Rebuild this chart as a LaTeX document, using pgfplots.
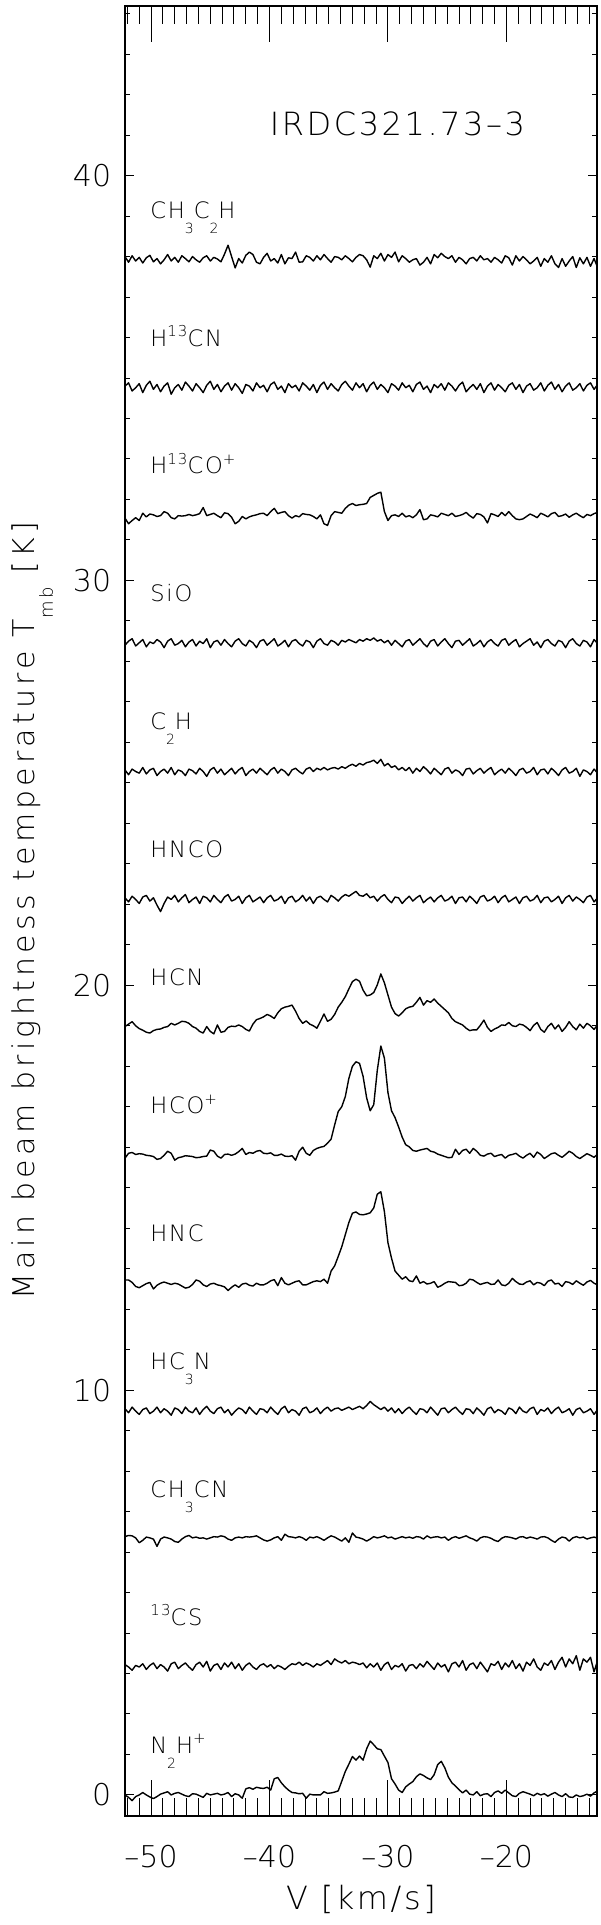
\documentclass[border=0pt]{standalone}
\usepackage{fontspec}
\IfFontExistsTF{DejaVu Sans ExtraLight}
  {\setmainfont{DejaVu Sans ExtraLight}[LetterSpace=8]}
  {\setmainfont{DejaVu Sans}[LetterSpace=8]}
\usepackage{pgfplots}
\usepackage{pgfplotstable}
\pgfplotsset{compat=1.18}

\newcommand\fs[1]{\fontsize{#1}{#1}\selectfont}
\newcommand\dn[1]{\raisebox{-7.5pt}{\fs{7pt}#1}}
\newcommand\up[1]{\raisebox{4.8pt}{\fs{7.5pt}#1}}

% spectra, T_mb in K, one value per 0.3 km/s channel
\pgfplotstableset{
 create on use/v/.style={create col/set list={
-52.2,-51.9,-51.6,-51.3,-51.0,-50.7,-50.4,-50.1,-49.8,-49.5,
-49.2,-48.9,-48.6,-48.3,-48.0,-47.7,-47.4,-47.1,-46.8,-46.5,
-46.2,-45.9,-45.6,-45.3,-45.0,-44.7,-44.4,-44.1,-43.8,-43.5,
-43.2,-42.9,-42.6,-42.3,-42.0,-41.7,-41.4,-41.1,-40.8,-40.5,
-40.2,-39.9,-39.6,-39.3,-39.0,-38.7,-38.4,-38.1,-37.8,-37.5,
-37.2,-36.9,-36.6,-36.3,-36.0,-35.7,-35.4,-35.1,-34.8,-34.5,
-34.2,-33.9,-33.6,-33.3,-33.0,-32.7,-32.4,-32.1,-31.8,-31.5,
-31.2,-30.9,-30.6,-30.3,-30.0,-29.7,-29.4,-29.1,-28.8,-28.5,
-28.2,-27.9,-27.6,-27.3,-27.0,-26.7,-26.4,-26.1,-25.8,-25.5,
-25.2,-24.9,-24.6,-24.3,-24.0,-23.7,-23.4,-23.1,-22.8,-22.5,
-22.2,-21.9,-21.6,-21.3,-21.0,-20.7,-20.4,-20.1,-19.8,-19.5,
-19.2,-18.9,-18.6,-18.3,-18.0,-17.7,-17.4,-17.1,-16.8,-16.5,
-16.2,-15.9,-15.6,-15.3,-15.0,-14.7,-14.4,-14.1,-13.8,-13.5,
-13.2,-12.9,-12.6,-12.3,-12.0}},
 create on use/n2h/.style={create col/set list={
0.0,-0.06,-0.14,-0.04,0.0,0.06,0.0,-0.05,-0.09,-0.04,
0.02,0.05,0.08,0.0,0.04,0.06,0.02,-0.02,-0.04,0.03,
0.02,-0.02,-0.06,0.04,0.0,0.02,0.04,0.0,0.02,0.06,
-0.04,0.03,0.0,-0.08,0.15,0.18,0.14,0.19,0.17,0.16,
0.19,0.12,0.4,0.43,0.3,0.2,0.12,0.06,0.05,0.03,
0.04,-0.08,0.02,0.0,0.0,0.0,0.08,0.04,0.05,0.07,
0.1,0.34,0.58,0.76,0.95,0.86,0.96,0.86,1.14,1.33,
1.24,1.14,1.12,0.96,0.8,0.4,0.27,0.12,0.06,0.2,
0.27,0.33,0.45,0.52,0.48,0.42,0.38,0.5,0.75,0.83,
0.67,0.44,0.3,0.22,0.13,0.05,0.12,0.02,0.0,0.08,
-0.02,0.02,0.03,-0.04,0.06,0.1,0.04,0.12,0.05,-0.02,
-0.04,0.04,0.08,0.05,0.02,-0.02,0.04,0.0,0.03,-0.03,
0.02,0.06,0.0,-0.04,0.03,-0.05,-0.06,0.0,-0.04,-0.02,
0.02,-0.03,0.05,0.1,0.04}},
 create on use/cs/.style={create col/set list={
0.06,0.0,-0.08,0.04,0.0,0.08,-0.06,0.04,0.1,-0.04,
0.06,0.0,-0.1,0.08,0.12,-0.04,0.04,0.1,0.0,-0.08,
0.06,0.12,0.0,0.14,-0.1,0.04,0.08,-0.06,0.1,0.0,
0.12,-0.04,0.08,-0.08,0.04,0.1,0.0,-0.06,0.04,0.08,
0.0,0.06,-0.04,0.04,0.0,-0.06,0.02,0.08,0.06,0.12,
0.04,0.1,0.06,0.0,0.08,0.04,0.1,0.16,0.06,0.2,
0.14,0.1,0.16,0.08,0.12,0.1,0.06,0.1,-0.02,0.08,
0.0,0.1,-0.08,0.06,0.12,-0.06,0.04,0.0,0.08,-0.1,
0.04,0.06,-0.04,0.08,0.0,0.14,0.04,-0.06,0.1,0.0,
0.06,-0.12,0.08,0.12,0.0,0.16,-0.08,0.06,0.1,-0.04,
0.12,0.0,-0.12,0.08,0.04,0.14,-0.06,0.1,0.0,0.16,
-0.04,0.08,-0.1,0.12,0.04,0.2,0.0,-0.08,0.1,0.04,
0.16,-0.06,0.12,0.24,0.0,0.2,0.08,0.28,-0.08,0.2,
0.12,0.24,-0.12,0.16,0.04}},
 create on use/ch3cn/.style={create col/set list={
0.06,0.09,0.08,0.03,-0.09,-0.03,0.05,0.03,0.0,-0.18,
0.0,0.05,0.03,0.0,-0.06,-0.08,0.0,0.06,0.09,0.03,
0.05,0.02,0.03,0.0,0.03,0.06,0.05,0.08,0.06,0.0,
-0.03,0.03,0.05,0.03,0.06,0.05,0.06,0.08,0.03,-0.02,
-0.05,-0.02,0.03,0.06,-0.03,0.12,0.06,0.05,0.03,0.06,
0.03,-0.03,0.05,0.03,0.06,0.02,-0.03,0.03,0.08,0.05,
0.0,-0.05,0.03,-0.08,0.15,0.05,0.03,0.0,-0.05,0.0,
0.06,0.03,0.05,0.08,0.03,0.05,0.0,0.03,0.06,0.03,
0.05,0.02,0.06,0.05,0.0,0.08,0.03,0.05,0.06,0.03,
0.05,-0.03,0.03,0.06,0.02,0.05,0.08,0.03,0.0,-0.05,
0.03,0.06,0.05,0.02,-0.03,-0.06,0.02,0.06,0.05,0.03,
0.0,0.05,0.06,0.02,0.05,0.03,0.0,0.05,0.06,0.03,
-0.03,-0.08,0.0,0.05,0.03,-0.05,0.03,0.06,0.03,0.05,
0.0,0.03,0.05,0.02,0.03}},
 create on use/hc3n/.style={create col/set list={
0.06,-0.04,0.1,0.0,-0.08,0.04,0.08,-0.06,0.0,0.1,
-0.04,0.06,0.0,-0.1,0.08,0.04,-0.06,0.1,0.0,-0.04,
0.08,-0.08,0.04,0.12,0.0,-0.06,0.06,0.1,-0.04,0.04,
-0.1,0.0,0.08,0.04,-0.06,0.1,0.0,-0.08,0.06,0.04,
-0.04,0.1,0.0,-0.08,0.06,0.12,-0.04,0.04,0.0,-0.1,
0.06,0.1,-0.04,0.0,0.08,-0.06,0.04,0.1,0.0,0.06,
0.08,0.02,0.06,0.1,0.04,0.08,0.12,0.06,0.14,0.24,
0.16,0.1,0.04,0.1,0.0,0.08,-0.04,0.06,-0.06,0.04,
0.1,0.0,-0.08,0.06,0.04,-0.04,0.1,0.0,-0.1,0.06,
0.08,-0.04,0.04,0.1,0.0,-0.08,0.06,0.04,-0.06,0.08,
0.0,-0.1,0.06,0.1,-0.04,0.04,0.0,-0.08,0.08,0.04,
-0.06,0.1,0.0,-0.04,0.06,0.1,-0.08,0.04,0.0,0.08,
-0.06,0.04,0.1,-0.04,0.0,0.06,-0.1,0.04,0.08,-0.04,
0.0,0.06,-0.08,0.04,0.0}},
 create on use/hnc/.style={create col/set list={
0.08,0.08,0.02,-0.08,-0.11,-0.06,-0.01,0.02,-0.14,-0.05,
0.0,0.03,0.0,-0.03,0.0,-0.02,-0.07,-0.12,-0.1,-0.03,
0.08,0.05,-0.04,-0.08,-0.02,0.0,-0.04,-0.06,-0.09,-0.18,
-0.1,-0.04,-0.1,-0.02,0.0,-0.05,-0.07,0.0,-0.04,-0.04,
0.0,0.06,0.09,-0.06,0.14,0.0,-0.04,0.0,0.04,0.06,
-0.04,-0.04,0.0,0.04,0.06,0.04,0.1,0.0,0.3,0.43,
0.66,0.9,1.2,1.5,1.73,1.76,1.7,1.69,1.71,1.74,
1.86,2.2,2.26,1.77,1.0,0.62,0.3,0.2,0.1,0.16,
0.06,0.04,0.18,0.0,0.04,-0.02,0.0,0.04,-0.1,-0.06,
0.0,0.04,0.03,0.02,-0.06,-0.05,0.0,0.1,0.08,0.02,
-0.03,0.0,0.02,-0.03,-0.02,0.08,-0.04,-0.06,0.0,0.12,
0.04,-0.02,-0.03,0.03,0.06,-0.04,0.02,0.0,-0.06,0.05,
0.08,-0.02,0.0,-0.08,0.04,0.02,-0.03,0.06,0.0,-0.05,
0.03,0.07,0.0,-0.04,0.02}},
 create on use/hcop/.style={create col/set list={
-0.07,0.05,0.07,0.02,0.04,0.03,0.0,-0.01,-0.03,-0.1,
-0.08,0.0,0.1,0.05,-0.12,-0.06,-0.04,-0.01,-0.02,-0.03,
-0.06,-0.05,-0.03,-0.02,0.13,0.1,-0.02,-0.07,0.02,0.03,
0.0,0.03,0.09,0.17,0.02,0.07,0.05,0.1,0.12,0.05,
0.04,0.06,0.0,0.0,0.03,-0.02,-0.03,-0.01,-0.12,0.1,
0.2,0.05,0.0,0.12,0.17,0.2,0.22,0.3,0.4,0.75,
1.08,1.2,1.45,1.9,2.2,2.31,2.27,1.95,1.42,1.1,
1.25,2.1,2.7,2.4,1.55,1.1,0.93,0.7,0.45,0.26,
0.21,0.12,0.1,0.13,0.15,0.17,0.1,0.08,0.03,0.0,
-0.03,-0.06,-0.05,0.15,0.02,0.12,0.15,0.05,0.17,0.1,
0.0,-0.02,0.03,0.05,-0.03,0.0,0.02,-0.07,0.0,0.02,
0.05,-0.02,-0.07,0.0,0.05,-0.05,0.08,0.02,-0.08,-0.02,
0.04,0.06,0.0,-0.05,0.02,0.1,0.05,-0.03,-0.08,-0.02,
0.04,0.0,-0.05,0.03,0.02}},
 create on use/hcn/.style={create col/set list={
0.02,0.08,0.14,0.04,-0.03,-0.07,-0.12,-0.14,-0.08,-0.05,
-0.04,0.0,0.02,0.1,0.06,0.1,0.15,0.14,0.1,0.02,
-0.02,-0.1,-0.14,0.02,-0.1,-0.16,0.06,-0.12,-0.1,0.0,
0.03,0.02,0.06,0.02,-0.05,-0.09,0.08,0.19,0.22,0.26,
0.32,0.28,0.22,0.36,0.46,0.5,0.52,0.55,0.4,0.22,
0.1,0.16,0.08,0.04,-0.02,0.15,0.33,0.15,0.2,0.32,
0.5,0.62,0.76,0.95,1.13,1.19,1.14,0.92,0.78,0.8,
0.86,1.05,1.32,1.1,0.8,0.5,0.34,0.28,0.36,0.46,
0.5,0.52,0.62,0.74,0.55,0.66,0.62,0.7,0.6,0.52,
0.44,0.36,0.22,0.14,0.1,0.06,-0.02,-0.08,-0.06,-0.06,
0.05,0.18,0.0,-0.1,-0.04,0.0,0.06,0.05,0.12,0.04,
0.02,0.08,0.06,0.0,-0.08,0.05,0.12,-0.05,-0.12,0.02,
0.1,-0.04,0.06,-0.1,0.0,0.14,0.02,-0.06,0.08,-0.02,
0.1,0.04,-0.05,0.06,0.02}},
 create on use/hnco/.style={create col/set list={
0.04,-0.06,0.08,0.0,-0.1,0.06,0.1,-0.04,0.04,-0.14,
-0.3,-0.1,0.06,0.0,0.1,-0.06,0.04,0.12,-0.08,0.0,
0.06,-0.1,0.08,0.04,-0.06,0.1,0.0,-0.08,0.06,0.12,
-0.04,0.0,0.08,-0.1,0.04,0.1,-0.06,0.0,0.06,-0.08,
0.04,0.1,-0.04,0.0,0.08,-0.1,0.04,0.08,-0.06,0.0,
0.1,-0.04,0.06,-0.1,0.04,0.08,0.0,-0.06,0.1,0.04,
-0.04,0.06,0.12,0.08,0.14,0.2,0.1,0.08,0.14,0.04,
0.08,-0.04,0.06,0.12,0.0,-0.08,0.06,0.04,-0.1,0.0,
0.08,-0.04,0.04,0.1,-0.08,0.0,0.06,-0.06,0.04,0.1,
-0.04,0.0,0.08,-0.1,0.04,0.06,-0.06,0.08,0.0,-0.1,
0.06,0.1,-0.04,0.0,0.08,-0.08,0.04,0.1,-0.06,0.0,
0.06,-0.1,0.04,0.08,-0.04,0.0,0.1,-0.08,0.04,0.06,
-0.06,0.0,0.08,-0.1,0.04,0.1,-0.04,0.06,0.0,-0.08,
0.06,0.1,-0.06,0.04,0.0}},
 create on use/c2h/.style={create col/set list={
0.04,-0.08,0.06,0.0,-0.04,0.1,-0.06,0.04,0.08,-0.1,
0.0,0.06,-0.04,0.1,-0.08,0.04,0.0,-0.1,0.06,0.02,
-0.06,0.08,0.0,-0.12,0.04,0.1,-0.04,0.06,-0.08,0.0,
0.08,-0.06,0.04,0.1,-0.1,0.0,0.06,-0.04,0.08,0.0,
-0.08,0.04,0.1,-0.04,0.06,0.0,-0.1,0.04,0.08,0.0,
-0.06,0.06,0.1,0.0,0.08,0.04,0.1,0.04,0.08,0.1,
0.06,0.12,0.08,0.14,0.18,0.13,0.2,0.16,0.22,0.24,
0.28,0.2,0.3,0.14,0.2,0.1,0.14,0.04,0.1,0.02,
0.1,-0.04,0.08,0.0,0.12,0.04,-0.06,0.08,0.0,-0.08,
0.06,0.1,-0.04,0.04,0.0,-0.1,0.06,0.08,-0.06,0.02,
0.08,-0.04,0.04,0.1,-0.08,0.0,0.06,-0.04,0.08,0.0,
-0.1,0.04,0.08,-0.04,0.0,0.1,-0.08,0.04,0.06,-0.06,
0.08,0.0,-0.1,0.04,0.1,-0.04,0.0,0.08,-0.12,0.04,
0.0,-0.08,0.06,-0.04,0.02}},
 create on use/sio/.style={create col/set list={
-0.04,0.06,0.12,-0.06,0.02,0.1,-0.08,0.04,0.0,0.1,
0.04,-0.1,0.06,0.12,-0.04,0.0,0.08,-0.08,0.04,0.1,
-0.06,0.06,0.0,0.12,-0.1,0.04,0.08,-0.04,0.1,0.0,
-0.08,0.06,0.12,0.0,-0.06,0.08,0.02,-0.1,0.06,0.1,
-0.04,0.04,0.12,-0.06,0.0,0.08,-0.08,0.06,0.1,0.0,
-0.06,0.08,0.04,-0.1,0.06,0.12,0.0,-0.04,0.08,0.04,
-0.04,0.08,0.04,0.1,0.06,0.02,0.1,0.06,0.12,0.08,
0.14,0.06,0.1,0.02,0.08,-0.04,0.08,0.0,-0.08,0.06,
0.1,-0.04,0.04,0.12,0.0,-0.08,0.06,0.1,-0.06,0.04,
0.12,0.0,-0.1,0.06,0.08,-0.04,0.04,0.12,-0.06,0.0,
0.08,-0.08,0.04,0.1,0.0,-0.06,0.08,0.12,-0.04,0.04,
0.1,-0.08,0.0,0.06,0.12,-0.04,0.04,-0.1,0.06,0.1,
0.0,-0.06,0.08,0.04,-0.1,0.06,0.12,0.0,-0.06,0.08,
0.04,-0.08,0.1,0.0,-0.12}},
 create on use/hcop13/.style={create col/set list={
-0.06,-0.2,-0.12,-0.05,-0.12,0.06,-0.03,0.04,0.02,-0.02,
0.0,0.1,0.06,-0.05,-0.08,0.0,-0.01,0.0,0.03,0.0,
0.02,0.05,0.2,0.0,0.03,0.06,0.0,-0.05,0.07,0.05,
-0.04,-0.2,-0.14,-0.02,-0.08,-0.03,0.0,0.02,0.05,0.06,
0.0,0.1,0.18,0.05,0.08,0.1,0.0,-0.06,0.0,-0.03,
0.05,0.03,0.02,-0.02,-0.08,0.02,-0.2,-0.24,0.0,0.1,
0.08,0.06,0.18,0.26,0.3,0.25,0.27,0.28,0.3,0.45,
0.5,0.55,0.58,0.1,-0.12,0.0,0.02,-0.02,0.06,-0.03,
0.0,-0.05,0.02,0.15,-0.1,-0.08,0.02,0.0,-0.03,0.06,
0.03,0.0,0.06,-0.02,0.0,0.03,0.08,0.0,-0.06,0.05,
0.03,-0.03,-0.18,0.05,0.02,-0.02,0.08,0.0,0.1,0.0,
-0.08,-0.1,-0.08,-0.02,0.04,0.0,-0.05,0.06,0.02,-0.03,
0.05,0.08,-0.02,0.0,0.04,-0.04,0.02,0.06,0.0,-0.05,
0.03,0.0,0.05,0.08,0.03}},
 create on use/hcn13/.style={create col/set list={
0.04,0.12,-0.08,0.0,0.1,-0.12,0.06,0.16,-0.04,0.08,
-0.1,0.04,0.12,-0.16,0.0,0.08,-0.06,0.14,0.04,-0.08,
0.1,0.0,-0.12,0.06,0.16,-0.04,0.08,-0.1,0.04,0.12,
-0.06,0.1,0.0,-0.14,0.08,0.04,-0.08,0.12,0.0,0.06,
-0.1,0.08,0.14,-0.04,0.04,-0.12,0.1,0.0,0.06,-0.08,
0.12,0.04,-0.06,0.08,-0.12,0.06,0.14,-0.04,0.1,0.0,
-0.08,0.08,0.16,0.04,-0.06,0.12,0.0,0.1,-0.1,0.06,
0.14,-0.04,0.08,0.0,-0.12,0.1,0.04,-0.06,0.12,0.0,
0.06,-0.1,0.08,0.14,-0.04,0.04,-0.12,0.08,0.0,0.1,
-0.06,0.12,0.04,-0.08,0.06,0.14,-0.1,0.0,0.08,-0.04,
0.1,-0.12,0.04,0.12,-0.06,0.08,0.0,-0.1,0.06,0.12,
-0.04,0.08,-0.12,0.04,0.1,-0.06,0.0,0.12,-0.08,0.06,
0.14,-0.04,0.08,-0.1,0.04,0.12,-0.06,0.0,0.1,-0.08,
0.06,0.12,-0.04,0.08,0.0}},
 create on use/ch3c2h/.style={create col/set list={
0.08,-0.06,0.1,-0.03,0.06,-0.08,0.05,0.11,-0.05,0.03,
-0.1,0.0,0.13,-0.03,0.06,-0.06,0.1,0.03,-0.05,0.08,
0.0,-0.06,0.05,0.1,-0.03,0.06,0.02,-0.05,0.14,0.36,
0.08,-0.2,0.03,-0.08,0.11,0.19,0.13,-0.06,-0.1,0.06,
0.16,-0.03,0.03,-0.08,0.13,-0.1,0.05,0.03,0.19,-0.06,
-0.05,0.1,0.06,-0.03,0.1,0.0,0.13,0.03,-0.06,0.08,
0.06,0.0,0.1,0.03,-0.05,0.06,0.13,0.1,0.0,-0.18,
0.1,0.03,0.16,-0.03,0.13,0.06,0.19,-0.05,0.1,0.03,
-0.06,0.0,0.03,-0.13,-0.06,0.06,-0.1,0.13,0.05,0.16,
0.08,0.03,0.1,-0.06,0.06,0.0,-0.1,0.03,0.06,-0.03,
0.1,0.0,0.03,-0.06,0.06,0.0,-0.08,0.1,0.05,-0.13,
0.1,-0.03,0.08,0.0,-0.1,-0.03,0.06,-0.16,0.03,-0.06,
0.1,-0.1,-0.19,0.03,-0.16,-0.03,0.08,-0.19,0.05,-0.1,
0.06,-0.16,0.03,-0.19,0.0}}
}
\pgfplotstablenew[columns={v,n2h,cs,ch3cn,hc3n,hnc,hcop,hcn,hnco,c2h,sio,hcop13,hcn13,ch3c2h}]{135}\spectra

\pgfplotsset{
  frame/.style={scale only axis, width=236pt, height=905pt,
    at={(62.5pt,54.5pt)}, anchor=south west,
    xmin=-52.2, xmax=-12.35, ymin=-0.52, ymax=44.19,
    axis line style={line width=0.75pt},
    tick style={black, line width=0.5pt}, tick align=inside},
  spec/.style={black, line width=0.7pt, line join=round, mark=none},
}

\begin{document}
\begin{tikzpicture}
\path[use as bounding box] (0,0) rectangle (300pt,962.5pt);

\begin{axis}[frame,
  xtick={-50,-40,-30,-20}, xticklabels={--50,--40,--30,--20},
  minor xtick={-52,-51,...,-13}, ytick=\empty,
  major tick length=18pt, minor tick length=9pt,
  xticklabel style={font={\fs{15pt}\addfontfeature{LetterSpace=0}}, anchor=base, inner sep=0pt, yshift=-26pt},
  xlabel={V [km/s]},
  xlabel style={at={(axis description cs:0.5,0)}, anchor=base, inner sep=0pt,
    yshift=-47pt, font=\fs{16pt}}]
\addplot[spec] table[x=v, y expr=\thisrow{n2h}] {\spectra};
\addplot[spec] table[x=v, y expr=\thisrow{cs}+3.16] {\spectra};
\addplot[spec] table[x=v, y expr=\thisrow{ch3cn}+6.32] {\spectra};
\addplot[spec] table[x=v, y expr=\thisrow{hc3n}+9.48] {\spectra};
\addplot[spec] table[x=v, y expr=\thisrow{hnc}+12.64] {\spectra};
\addplot[spec] table[x=v, y expr=\thisrow{hcop}+15.8] {\spectra};
\addplot[spec] table[x=v, y expr=\thisrow{hcn}+18.96] {\spectra};
\addplot[spec] table[x=v, y expr=\thisrow{hnco}+22.12] {\spectra};
\addplot[spec] table[x=v, y expr=\thisrow{c2h}+25.28] {\spectra};
\addplot[spec] table[x=v, y expr=\thisrow{sio}+28.44] {\spectra};
\addplot[spec] table[x=v, y expr=\thisrow{hcop13}+31.6] {\spectra};
\addplot[spec] table[x=v, y expr=\thisrow{hcn13}+34.76] {\spectra};
\addplot[spec] table[x=v, y expr=\thisrow{ch3c2h}+37.92] {\spectra};

\begin{scope}[every node/.style={anchor=base west, inner sep=0pt, font=\fs{11.3pt}}]
\node at (axis cs:-50.1,1.03) {N\dn{2}H\up{+}};
\node at (axis cs:-50.1,4.19) {\up{13}CS};
\node at (axis cs:-50.1,7.35) {CH\dn{3}CN};
\node at (axis cs:-50.1,10.51) {HC\dn{3}N};
\node at (axis cs:-50.1,13.67) {HNC};
\node at (axis cs:-50.1,16.83) {HCO\up{+}};
\node at (axis cs:-50.1,19.99) {HCN};
\node at (axis cs:-50.1,23.15) {HNCO};
\node at (axis cs:-50.1,26.31) {C\dn{2}H};
\node at (axis cs:-50.1,29.47) {SiO};
\node at (axis cs:-50.1,32.63) {H\up{13}CO\up{+}};
\node at (axis cs:-50.1,35.79) {H\up{13}CN};
\node at (axis cs:-50.1,38.95) {CH\dn{3}C\dn{2}H};
\end{scope}
\node[anchor=base west, inner sep=0pt, font=\fs{16pt}] at (axis cs:-40,41.0) {IRDC321.73--3};
\end{axis}

\begin{axis}[frame,
  xtick=\empty, ytick={0,10,20,30,40}, yticklabels={0,10,20,30,40},
  minor ytick={0,1,...,44},
  major tick length=4.7pt, minor tick length=2.35pt,
  yticklabel style={font={\fs{15pt}\addfontfeature{LetterSpace=0}}, anchor=east, inner sep=0pt, xshift=-6.75pt},
  ylabel={Main beam brightness temperature T\raisebox{-9pt}{\fs{9pt}mb} [K]},
  ylabel style={at={(axis description cs:-0.1907,0.5)}, anchor=base,
    inner sep=0pt, font={\fs{15pt}\addfontfeature{LetterSpace=14}}}]
\end{axis}
\end{tikzpicture}
\end{document}
